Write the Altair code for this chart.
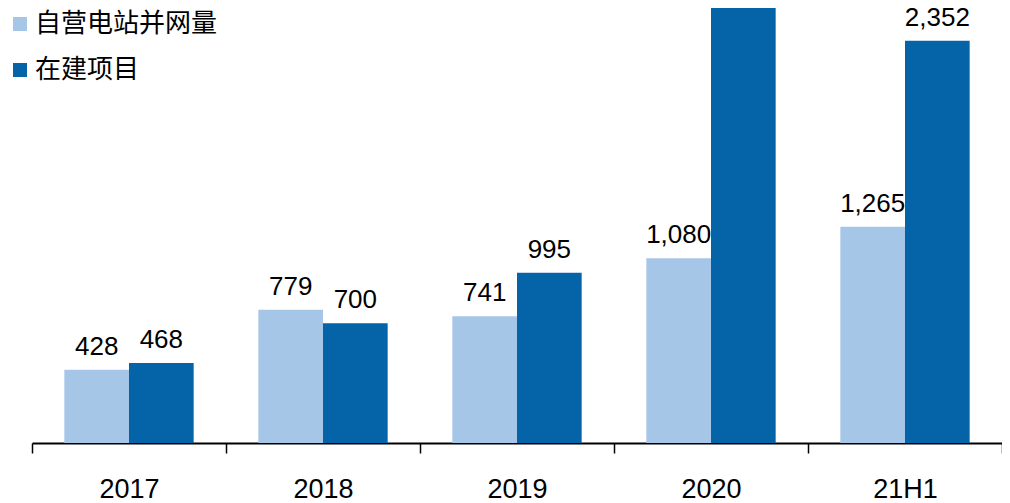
import altair as alt
import pandas as pd

categories = ["2017", "2018", "2019", "2020", "21H1"]
series_names = ["自营电站并网量", "在建项目"]
grid_connected = [428, 779, 741, 1080, 1265]
under_construction = [468, 700, 995, 2850, 2352]
colors = ["#A6C6E8", "#0563A8"]

rows = []
for i, c in enumerate(categories):
    rows.append({"year": c, "series": series_names[0], "value": grid_connected[i]})
    rows.append({"year": c, "series": series_names[1], "value": under_construction[i]})
df = pd.DataFrame(rows)
df["label"] = df["value"].map(lambda v: f"{v:,}")

x = alt.X(
    "year:N",
    sort=categories,
    scale=alt.Scale(paddingInner=0, paddingOuter=0),
    axis=alt.Axis(
        title=None, labelAngle=0, tickBand="extent", domainColor="black",
        domainWidth=2, tickColor="black", tickWidth=1.5, tickSize=10,
        labelFontSize=27, labelFont="Liberation Sans Narrow, Liberation Sans",
        labelColor="black", labelPadding=23, grid=False,
    ),
)
xoff = alt.XOffset("series:N", sort=series_names,
                   scale=alt.Scale(paddingInner=0, paddingOuter=0.5))
y = alt.Y("value:Q", scale=alt.Scale(domain=[0, 2544], nice=False, zero=True), axis=None)
color = alt.Color(
    "series:N", sort=series_names,
    scale=alt.Scale(domain=series_names, range=colors),
    legend=alt.Legend(
        title=None, orient="none", legendX=-25, legendY=3, symbolType="square",
        symbolSize=196, symbolStrokeWidth=0, labelFontSize=26, labelLimit=0,
        labelFont="Noto Sans CJK SC", labelColor="black", rowPadding=20, labelOffset=2,
    ),
)

bars = alt.Chart(df).mark_bar(clip=True).encode(x=x, xOffset=xoff, y=y, color=color)
text = alt.Chart(df).mark_text(
    baseline="alphabetic", dy=-15, fontSize=26,
    font="Liberation Sans", color="black",
).encode(x=x, xOffset=xoff, y=y, text="label:N")

chart = alt.layer(bars, text).properties(
    width=970, height=435,
    autosize=alt.AutoSizeParams(type="none"),
    padding={"left": 24, "top": 0, "right": 0, "bottom": 60},
).configure_view(stroke=None)

chart.save("out.html", embed_options={"renderer": "svg", "actions": False})
